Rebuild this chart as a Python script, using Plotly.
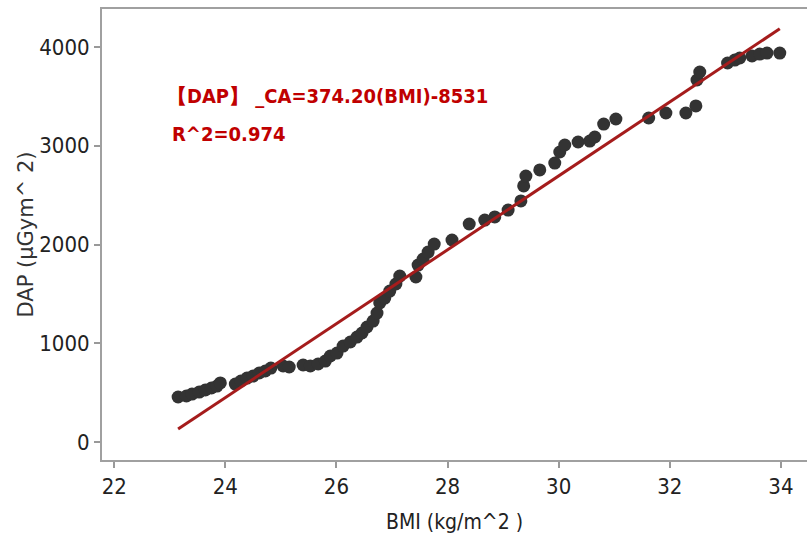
import plotly.graph_objects as go

bmi = [23.15, 23.30, 23.40, 23.53, 23.64, 23.75, 23.85, 23.91,
       24.18, 24.28, 24.39, 24.50, 24.61, 24.72, 24.82,
       25.04, 25.15,
       25.40, 25.53, 25.67, 25.80, 25.89, 26.01, 26.12, 26.25, 26.37, 26.46, 26.55,
       26.66, 26.73, 26.78, 26.87, 26.96, 27.07, 27.14,
       27.43, 27.47, 27.56, 27.65, 27.76,
       28.08, 28.39, 28.67, 28.85, 29.09, 29.32, 29.37, 29.41,
       29.66, 29.93, 30.02, 30.11, 30.35, 30.56, 30.65, 30.81, 31.03,
       31.62, 31.93, 32.29, 32.47, 32.49, 32.54,
       33.04, 33.17, 33.26, 33.48, 33.62, 33.75, 33.98]
dap = [456, 466, 486, 506, 527, 547, 567, 598,
       587, 618, 648, 668, 699, 719, 749,
       770, 760,
       780, 770, 790, 820, 871, 901, 972, 1013, 1063, 1104, 1165,
       1225, 1306, 1408, 1458, 1529, 1600, 1681,
       1671, 1792, 1853, 1924, 2005,
       2046, 2208, 2248, 2279, 2349, 2441, 2593, 2694,
       2755, 2825, 2937, 3008, 3038, 3048, 3089, 3220, 3271,
       3281, 3332, 3332, 3403, 3666, 3747,
       3838, 3868, 3889, 3909, 3929, 3939, 3939]

slope = 374.20
intercept = -8531
eq_text = "【DAP】 _CA=374.20(BMI)-8531"
r2_text = "R^2=0.974"
x_ticks = [22, 24, 26, 28, 30, 32, 34]
y_ticks = [0, 1000, 2000, 3000, 4000]

narrow = "DejaVu Sans Condensed, sans-serif"

x0, x1 = min(bmi), max(bmi)
fig = go.Figure()
fig.add_trace(go.Scatter(x=bmi, y=dap, mode="markers",
                         marker=dict(symbol="circle", size=13, color="#333333"),
                         showlegend=False))
fig.add_trace(go.Scatter(x=[x0, x1], y=[slope * x0 + intercept, slope * x1 + intercept],
                         mode="lines", line=dict(color="#a51c1c", width=3),
                         showlegend=False))

fig.add_annotation(x=0.09, y=0.807, xref="paper", yref="paper", text="<b>" + eq_text + "</b>",
                   showarrow=False, xanchor="left", yanchor="middle",
                   font=dict(family=narrow, size=20, color="#c00000"))
fig.add_annotation(x=0.097, y=0.723, xref="paper", yref="paper", text="<b>" + r2_text + "</b>",
                   showarrow=False, xanchor="left", yanchor="middle",
                   font=dict(family=narrow, size=20, color="#c00000"))

fig.update_layout(
    width=807, height=555,
    margin=dict(l=102, r=0, t=9, b=95),
    plot_bgcolor="white", paper_bgcolor="white",
    font=dict(family=narrow, color="#222222"),
)
fig.update_xaxes(range=[21.78, 34.47], tickvals=x_ticks, ticks="outside", ticklen=6,
                 tickcolor="#999999", tickwidth=1.5,
                 showgrid=False, zeroline=False, showline=True, linecolor="#a0a0a0",
                 linewidth=2, mirror=True, tickfont=dict(size=22, family=narrow),
                 title=dict(text="BMI (kg/m^2 )", font=dict(size=21, family=narrow), standoff=16))
fig.update_yaxes(range=[-182, 4385], tickvals=y_ticks, ticks="outside", ticklen=6,
                 tickcolor="#999999", tickwidth=1.5,
                 showgrid=False, zeroline=False, showline=True, linecolor="#a0a0a0",
                 linewidth=2, tickfont=dict(size=22, family=narrow),
                 title=dict(text="DAP (µGym^ 2)", font=dict(size=21, family="DejaVu Sans, sans-serif", color="#333333"), standoff=0))

fig.write_html("out.html")
